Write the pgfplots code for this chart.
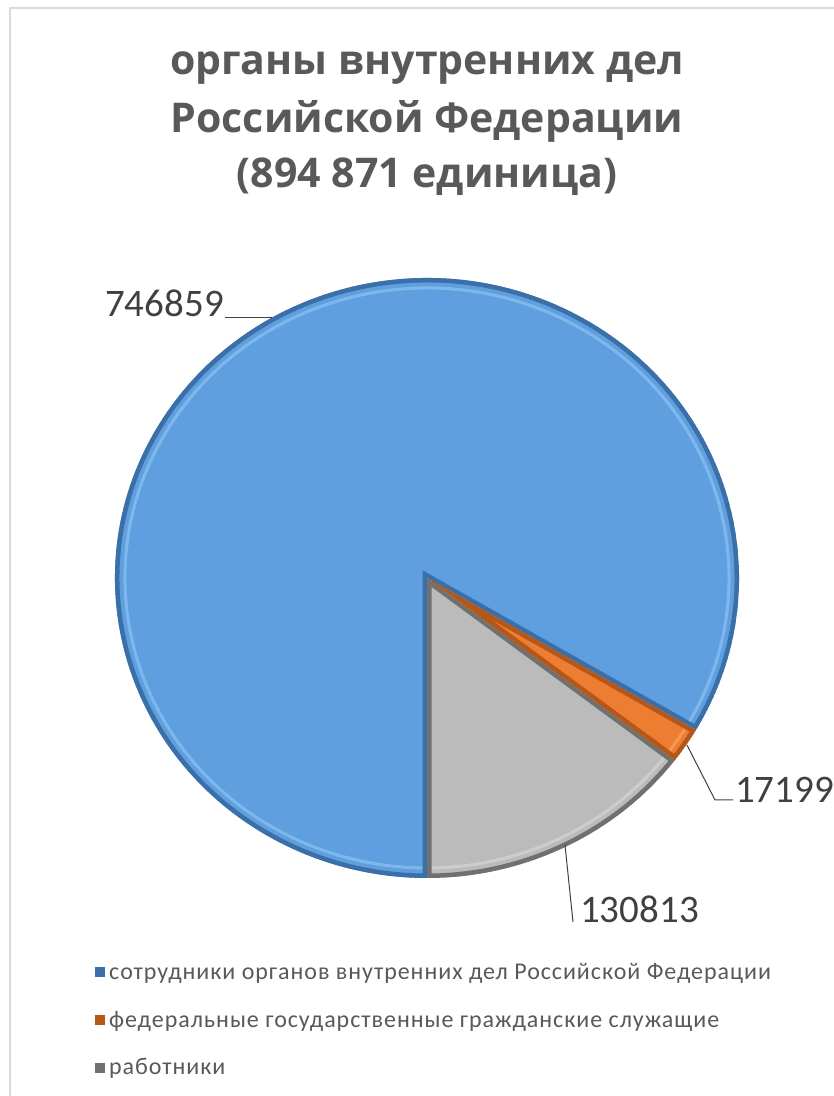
\documentclass[border=0pt]{standalone}
\usepackage{pgfplots}
\pgfplotsset{compat=1.18}
\usepackage{pgfplotstable}
\usepackage{fontspec}
\setmainfont{Carlito}
\newfontfamily\titlefont{Open Sans}
\newfontfamily\legfont{Carlito}[LetterSpace=4]

\definecolor{ttl}{HTML}{595959}
\definecolor{lbl}{HTML}{404040}
\definecolor{blueF}{HTML}{5F9FE0}
\definecolor{blueD}{HTML}{3B6FA8}
\definecolor{blueL}{HTML}{8CC2F2}
\definecolor{orgF}{HTML}{ED7D31}
\definecolor{orgD}{HTML}{B3571A}
\definecolor{orgL}{HTML}{F6A46A}
\definecolor{grayF}{HTML}{BBBBBB}
\definecolor{grayD}{HTML}{707070}
\definecolor{grayL}{HTML}{D6D6D6}

% staff of the internal affairs bodies
\pgfplotstableread{
value
746859
17199
130813
}\piedata
\pgfplotstablegetelem{0}{value}\of\piedata\edef\va{\pgfplotsretval}
\pgfplotstablegetelem{1}{value}\of\piedata\edef\vb{\pgfplotsretval}
\pgfplotstablegetelem{2}{value}\of\piedata\edef\vc{\pgfplotsretval}
\edef\tot{\fpeval{\va+\vb+\vc}}
\edef\aG{\fpeval{-90+360*\vc/\tot}}
\edef\aO{\fpeval{\aG+360*\vb/\tot}}

% one slice: start angle, end angle, fill, rim, highlight
\newcommand\slicepath[2]{(axis cs:427,518) -- ++(#1:312pt and 300pt)
  arc[start angle=#1, end angle=#2, x radius=312pt, y radius=300pt] -- cycle}
\newcommand\slice[5]{%
  \begin{scope}
    \clip \slicepath{#1}{#2};
    \fill[#3] \slicepath{#1}{#2};
    \draw[#5, line width=3pt, opacity=0.7] (axis cs:427,518) ++(#1:302pt and 290pt)
      arc[start angle=#1, end angle=#2, x radius=302pt, y radius=290pt];
    \draw[#4, line width=9pt] \slicepath{#1}{#2};
  \end{scope}}
\newcommand\legsq[1]{\fill[#1, draw=none] (0pt,-5pt) rectangle (10pt,5pt);
  \path[draw=none, fill=none] (0pt,0pt) -- (13pt,0pt);}

\begin{document}
\begin{tikzpicture}
\useasboundingbox (0,0) rectangle (834pt,1096pt);
\clip (0,0) rectangle (834pt,1096pt);
\begin{axis}[
  at={(0,0)}, anchor=south west,
  width=834pt, height=1096pt, scale only axis,
  xmin=0, xmax=834, ymin=0, ymax=1096,
  hide axis, clip=false,
  legend style={at={(axis cs:92,136)}, anchor=north west, draw=none, fill=none,
    font=\legfont\fontsize{24}{28}\selectfont\color{ttl}, row sep=28pt,
    nodes={inner sep=1pt}},
  legend cell align=left,
  ]
\addlegendimage{legend image code/.code={\legsq{blueD}}}
\addlegendentry{сотрудники органов внутренних дел Российской Федерации}
\addlegendimage{legend image code/.code={\legsq{orgD}}}
\addlegendentry{федеральные государственные гражданские служащие}
\addlegendimage{legend image code/.code={\legsq{grayD}}}
\addlegendentry{работники}

\pgfplotsextra{
  \slice{\aO}{270}{blueF}{blueD}{blueL}
  \slice{-90}{\aG}{grayF}{grayD}{grayL}
  \slice{\aG}{\aO}{orgF}{orgD}{orgL}
}

% chart area border
\draw[black!15, line width=2pt] (axis cs:10,0) -- (axis cs:10,1088) -- (axis cs:834,1088);

% title
\node[anchor=base, font=\titlefont\bfseries\fontsize{41}{48}\selectfont, text=ttl]
  at (axis cs:427,1021) {органы внутренних дел};
\node[anchor=base, font=\titlefont\bfseries\fontsize{41}{48}\selectfont, text=ttl]
  at (axis cs:427,963) {Российской Федерации};
\node[anchor=base, font=\titlefont\bfseries\fontsize{41}{48}\selectfont, text=ttl]
  at (axis cs:427,908) {(894 871 единица)};

% data labels with leader lines
\draw[lbl, line width=1pt] (axis cs:225,778) -- (axis cs:272,778);
\node[anchor=base east, inner sep=0pt, font=\fontsize{39}{46}\selectfont, text=lbl]
  at (axis cs:224,779) {746859};
\draw[lbl, line width=1pt] (axis cs:687,351) -- (axis cs:715,296) -- (axis cs:733,296);
\node[anchor=base west, inner sep=0pt, font=\fontsize{39}{46}\selectfont, text=lbl]
  at (axis cs:735,293) {17199};
\draw[lbl, line width=1pt] (axis cs:565,251) -- (axis cs:573,174);
\node[anchor=base west, inner sep=0pt, font=\fontsize{39}{46}\selectfont, text=lbl]
  at (axis cs:580,173) {130813};
\end{axis}
\end{tikzpicture}
\end{document}
